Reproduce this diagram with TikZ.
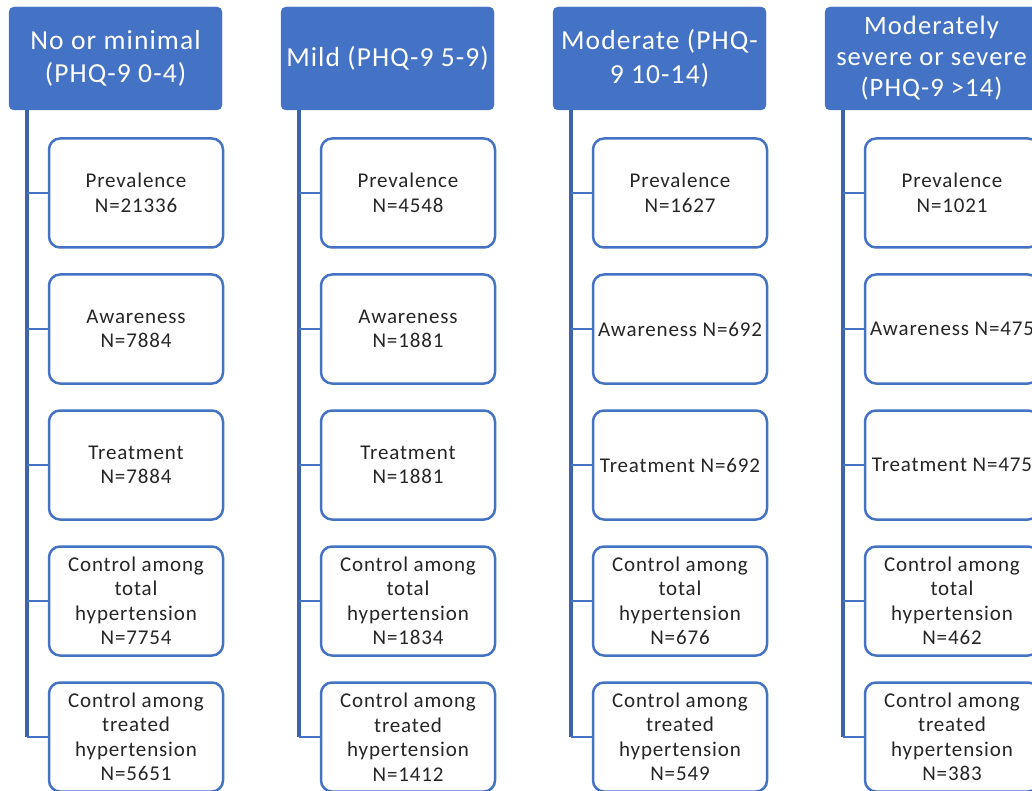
\documentclass[tikz,border=0pt]{standalone}
\usepackage{fontspec}
\setmainfont{Carlito}
\newfontfamily\cellfont[LetterSpace=4]{Carlito}
\newfontfamily\hdrfont[LetterSpace=4]{Carlito}
\definecolor{hdrblue}{HTML}{4472C4}
\definecolor{trunkblue}{HTML}{3B63AA}
\definecolor{txtgray}{HTML}{262626}

\begin{document}
\begin{tikzpicture}[x=1pt,y=-1pt,
    hdr/.style={draw=hdrblue,fill=hdrblue,rounded corners=5pt,
      minimum width=213pt,minimum height=103pt,inner sep=2pt,
      text=white,align=center,font=\hdrfont\fontsize{27.5}{33.5}\selectfont},
    cell/.style={draw=hdrblue,line width=2.5pt,fill=white,rounded corners=11pt,
      minimum width=174pt,minimum height=109pt,inner sep=1pt,
      text=txtgray,align=center,font=\cellfont\fontsize{21}{24.5}\selectfont},
    trunk/.style={draw=trunkblue,line width=3.5pt},
    branch/.style={draw=hdrblue,line width=2.5pt}]
  \useasboundingbox (0,0) rectangle (1032,791);
  \clip (0,0) rectangle (1032,791);

  % headers
  \node[hdr] (h1) at (115.5,58.5) {No or minimal\\(PHQ-9 0-4)};
  \node[hdr] (h2) at (387.5,58.5) {Mild (PHQ-9 5-9)};
  \node[hdr] (h3) at (659.5,58.5) {Moderate (PHQ-\\9 10-14)};
  \node[hdr,font=\hdrfont\fontsize{26.6}{31}\selectfont] (h4) at (931.5,58.5)
    {Moderately\\severe or severe\\(PHQ-9 >14)};

  % column 1
  \node[cell] (a1) at (136,193) {Prevalence\\N=21336};
  \node[cell] (a2) at (136,329) {Awareness\\N=7884};
  \node[cell] (a3) at (136,465) {Treatment\\N=7884};
  \node[cell] (a4) at (136,601) {Control among\\total\\hypertension\\N=7754};
  \node[cell] (a5) at (136,737) {Control among\\treated\\hypertension\\N=5651};

  % column 2
  \node[cell] (b1) at (408,193) {Prevalence\\N=4548};
  \node[cell] (b2) at (408,329) {Awareness\\N=1881};
  \node[cell] (b3) at (408,465) {Treatment\\N=1881};
  \node[cell] (b4) at (408,601) {Control among\\total\\hypertension\\N=1834};
  \node[cell] (b5) at (408,737) {Control among\\treated\\hypertension\\N=1412};

  % column 3
  \node[cell] (c1) at (680,193) {Prevalence\\N=1627};
  \node[cell] (c2) at (680,329) {Awareness N=692};
  \node[cell] (c3) at (680,465) {Treatment N=692};
  \node[cell] (c4) at (680,601) {Control among\\total\\hypertension\\N=676};
  \node[cell] (c5) at (680,737) {Control among\\treated\\hypertension\\N=549};

  % column 4
  \node[cell] (d1) at (952,193) {Prevalence\\N=1021};
  \node[cell] (d2) at (952,329) {Awareness N=475};
  \node[cell] (d3) at (952,465) {Treatment N=475};
  \node[cell] (d4) at (952,601) {Control among\\total\\hypertension\\N=462};
  \node[cell] (d5) at (952,737) {Control among\\treated\\hypertension\\N=383};

  % trunks
  \coordinate (t1) at ([xshift=18pt]h1.south west);
  \coordinate (t2) at ([xshift=18pt]h2.south west);
  \coordinate (t3) at ([xshift=18pt]h3.south west);
  \coordinate (t4) at ([xshift=18pt]h4.south west);
  \draw[trunk] (t1) -- (t1 |- a5.west);
  \draw[trunk] (t2) -- (t2 |- b5.west);
  \draw[trunk] (t3) -- (t3 |- c5.west);
  \draw[trunk] (t4) -- (t4 |- d5.west);

  % branches
  \foreach \c/\t in {a/t1,b/t2,c/t3,d/t4}
    \foreach \r in {1,...,5}
      \draw[branch] (\t |- \c\r.west) -- (\c\r.west);
\end{tikzpicture}
\end{document}
